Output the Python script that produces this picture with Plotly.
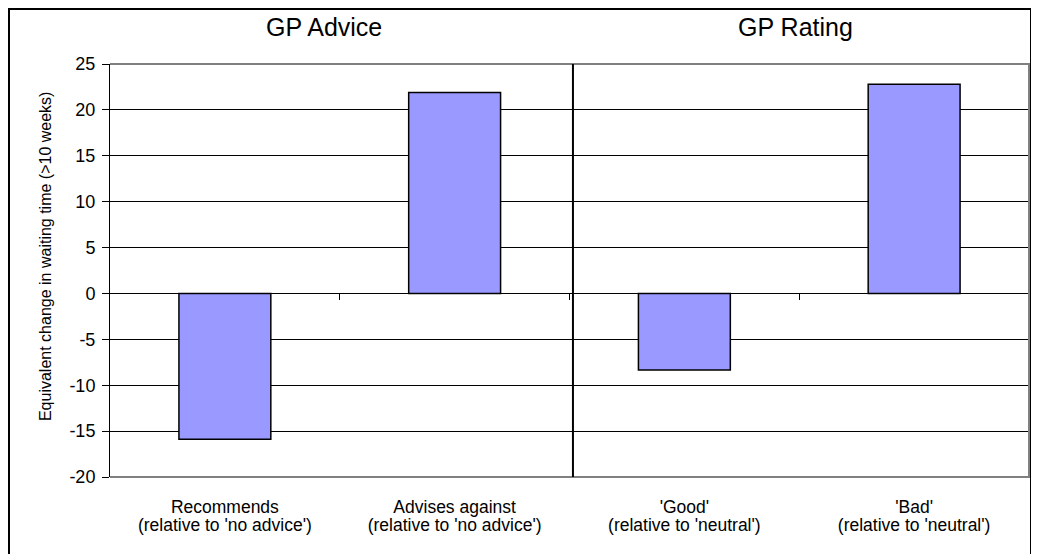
import plotly.graph_objects as go

categories = ["Recommends", "Advises against", "'Good'", "'Bad'"]
sub_labels = [
    "(relative to 'no advice')",
    "(relative to 'no advice')",
    "(relative to 'neutral')",
    "(relative to 'neutral')",
]
values = [-15.9, 21.9, -8.35, 22.8]
panel_titles = ["GP Advice", "GP Rating"]
y_ticks = [-20, -15, -10, -5, 0, 5, 10, 15, 20, 25]
y_title = "Equivalent change in waiting time (>10 weeks)"

FONT = "Liberation Sans, Arial, sans-serif"
n = len(categories)
xr = [-0.5, n - 0.5]

fig = go.Figure()
fig.add_trace(go.Bar(
    x=categories, y=values, width=0.4,
    marker=dict(color="#9999FF", line=dict(color="#000000", width=1.5)),
    showlegend=False, hoverinfo="skip",
))
# helper traces for overlay axes (zero-line ticks, second label row)
fig.add_trace(go.Scatter(x=xr, y=[0, 0], xaxis="x2", mode="lines",
                         line=dict(width=0), showlegend=False, hoverinfo="skip"))
fig.add_trace(go.Scatter(x=xr, y=[0, 0], xaxis="x3", mode="lines",
                         line=dict(width=0), showlegend=False, hoverinfo="skip"))

fig.update_layout(
    width=1039, height=554,
    margin=dict(l=102, r=18, t=56, b=85),
    paper_bgcolor="white", plot_bgcolor="white",
    font=dict(family=FONT, color="#000000"),
    xaxis=dict(
        type="category", range=xr, showgrid=False, zeroline=False,
        showline=False, ticks="", tickfont=dict(size=17.5), ticklabelstandoff=17,
    ),
    xaxis2=dict(
        overlaying="x", anchor="free", position=20 / 45, range=xr,
        showgrid=False, zeroline=False, showline=True, linecolor="#000000", linewidth=1,
        tickvals=[i + 0.5 for i in range(n)], ticks="outside", ticklen=6,
        tickcolor="#000000", showticklabels=False,
    ),
    xaxis3=dict(
        overlaying="x", anchor="y", side="bottom", range=xr,
        showgrid=False, zeroline=False, showline=False, ticks="",
        tickvals=list(range(n)), ticktext=sub_labels,
        tickfont=dict(size=17.5), ticklabelstandoff=35,
    ),
    yaxis=dict(
        range=[y_ticks[0], y_ticks[-1]], tickvals=y_ticks,
        ticktext=[str(v) for v in y_ticks],
        showgrid=True, gridcolor="#000000", gridwidth=1,
        zeroline=False, showline=True, linecolor="#000000", linewidth=1,
        ticks="outside", ticklen=7, tickcolor="#000000", tickfont=dict(size=18),
        ticklabelstandoff=3,
    ),
    shapes=[
        # plot-area border (top, right, bottom) in grey
        dict(type="path", xref="paper", yref="paper", path="M 0 1 L 1 1 L 1 0 L 0 0",
             line=dict(color="#808080", width=2), layer="above"),
        # divider between panels
        dict(type="line", xref="x2", yref="paper", x0=1.515, x1=1.515, y0=0, y1=1,
             line=dict(color="#000000", width=2), layer="above"),
        # outer frame
        dict(type="rect", xref="paper", yref="paper",
             x0=-101 / 919, x1=921 / 919, y0=-79 / 413, y1=468 / 413,
             line=dict(color="#000000", width=2), layer="above"),
    ],
    annotations=[
        dict(text=panel_titles[0], xref="paper", yref="paper", x=0.233, y=1.09,
             xanchor="center", yanchor="middle", showarrow=False, font=dict(size=25)),
        dict(text=panel_titles[1], xref="paper", yref="paper", x=0.746, y=1.09,
             xanchor="center", yanchor="middle", showarrow=False, font=dict(size=25)),
        dict(text=y_title, xref="paper", yref="paper", x=-0.0707, y=0.535,
             xanchor="center", yanchor="middle",
             textangle=-90, showarrow=False, font=dict(size=16)),
    ],
)

fig.write_html("out.html")
